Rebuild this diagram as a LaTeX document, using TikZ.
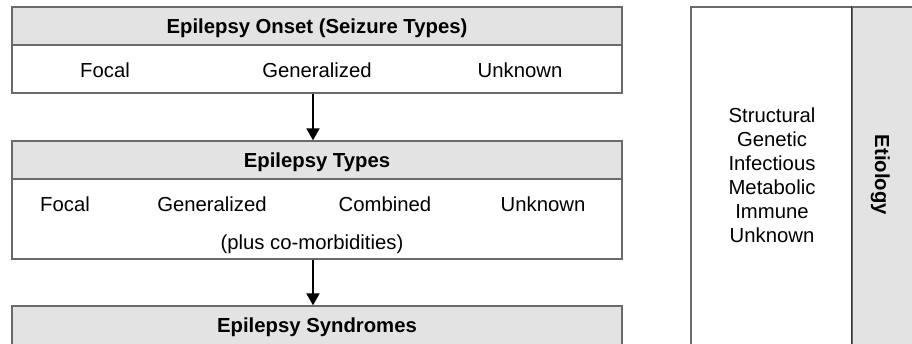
\documentclass[tikz,border=0pt]{standalone}
\usepackage{fontspec}
\setmainfont{Liberation Sans}
\usetikzlibrary{arrows.meta}
\definecolor{hdrgray}{HTML}{E3E3E3}
\definecolor{edgegray}{HTML}{6A6A6A}
\begin{document}
\begin{tikzpicture}[x=1pt,y=-1pt,
  boxhdr/.style={draw=edgegray,line width=1.4pt,fill=hdrgray,rectangle,minimum width=610pt,inner sep=0pt},
  boxbody/.style={draw=edgegray,line width=1.4pt,fill=white,rectangle,minimum width=610pt,inner sep=0pt},
  lbl/.style={font=\fontsize{20.3}{24}\selectfont,anchor=base,inner sep=0pt},
  hlbl/.style={font=\fontsize{20.3}{24}\selectfont\bfseries,anchor=base,inner sep=0pt},
  rlbl/.style={font=\fontsize{20.3}{24}\selectfont,anchor=base,inner sep=0pt,align=center},
  arr/.style={line width=2pt,-{Triangle[width=13pt,length=12pt]}}]
\clip (0,0) rectangle (912,343);
\fill[white] (0,0) rectangle (912,343);
% Onset
\node[boxhdr,minimum height=38pt] (onsetH) at (317,26) {};
\node[boxbody,minimum height=48pt] (onsetB) at (317,69) {};
\draw[edgegray,line width=1.4pt] (onsetH.north west) rectangle (onsetB.south east);
\node[hlbl] (t1) at (317,33) {Epilepsy Onset (Seizure Types)};
\node[lbl] (o1) at (105,77) {Focal};
\node[lbl] (o2) at (317,77) {Generalized};
\node[lbl] (o3) at (520,77) {Unknown};
% Types
\node[boxhdr,minimum height=38pt] (typesH) at (317,160) {};
\node[boxbody,minimum height=80pt] (typesB) at (317,219) {};
\draw[edgegray,line width=1.4pt] (typesH.north west) rectangle (typesB.south east);
\node[hlbl] (t2) at (317,167) {Epilepsy Types};
\node[lbl] (p1) at (65,211) {Focal};
\node[lbl] (p2) at (212,211) {Generalized};
\node[lbl] (p3) at (385,211) {Combined};
\node[lbl] (p4) at (543,211) {Unknown};
\node[lbl] (p5) at (312,249) {(plus co-morbidities)};
% Syndromes
\node[boxhdr,minimum height=50pt] (syndH) at (317,331) {};
\node[hlbl] (t3) at (317,332) {Epilepsy Syndromes};
% Arrows
\draw[arr] ([xshift=-4pt]onsetB.south) -- ([xshift=-4pt]typesH.north);
\draw[arr] ([xshift=-4pt]typesB.south) -- ([xshift=-4pt]syndH.north);
% Etiology
\node[draw=edgegray,line width=1.4pt,fill=white,rectangle,minimum width=161pt,minimum height=340pt,inner sep=0pt] (etioB) at (771.5,177) {};
\node[draw=edgegray,line width=1.4pt,fill=hdrgray,rectangle,minimum width=70pt,minimum height=340pt,inner sep=0pt] (etioH) at (887,177) {};
\draw[black!80,line width=1.4pt] (etioH.north west) -- (etioH.south west);
\node[rlbl] (e1) at (772,122) {Structural};
\node[rlbl] (e2) at (772,146) {Genetic};
\node[rlbl] (e3) at (772,170) {Infectious};
\node[rlbl] (e4) at (772,194) {Metabolic};
\node[rlbl] (e5) at (772,218) {Immune};
\node[rlbl] (e6) at (772,242) {Unknown};
\node[rlbl,font=\fontsize{20.3}{24}\selectfont\bfseries,rotate=-90] (et) at (875,175) {Etiology};
\end{tikzpicture}
\end{document}
